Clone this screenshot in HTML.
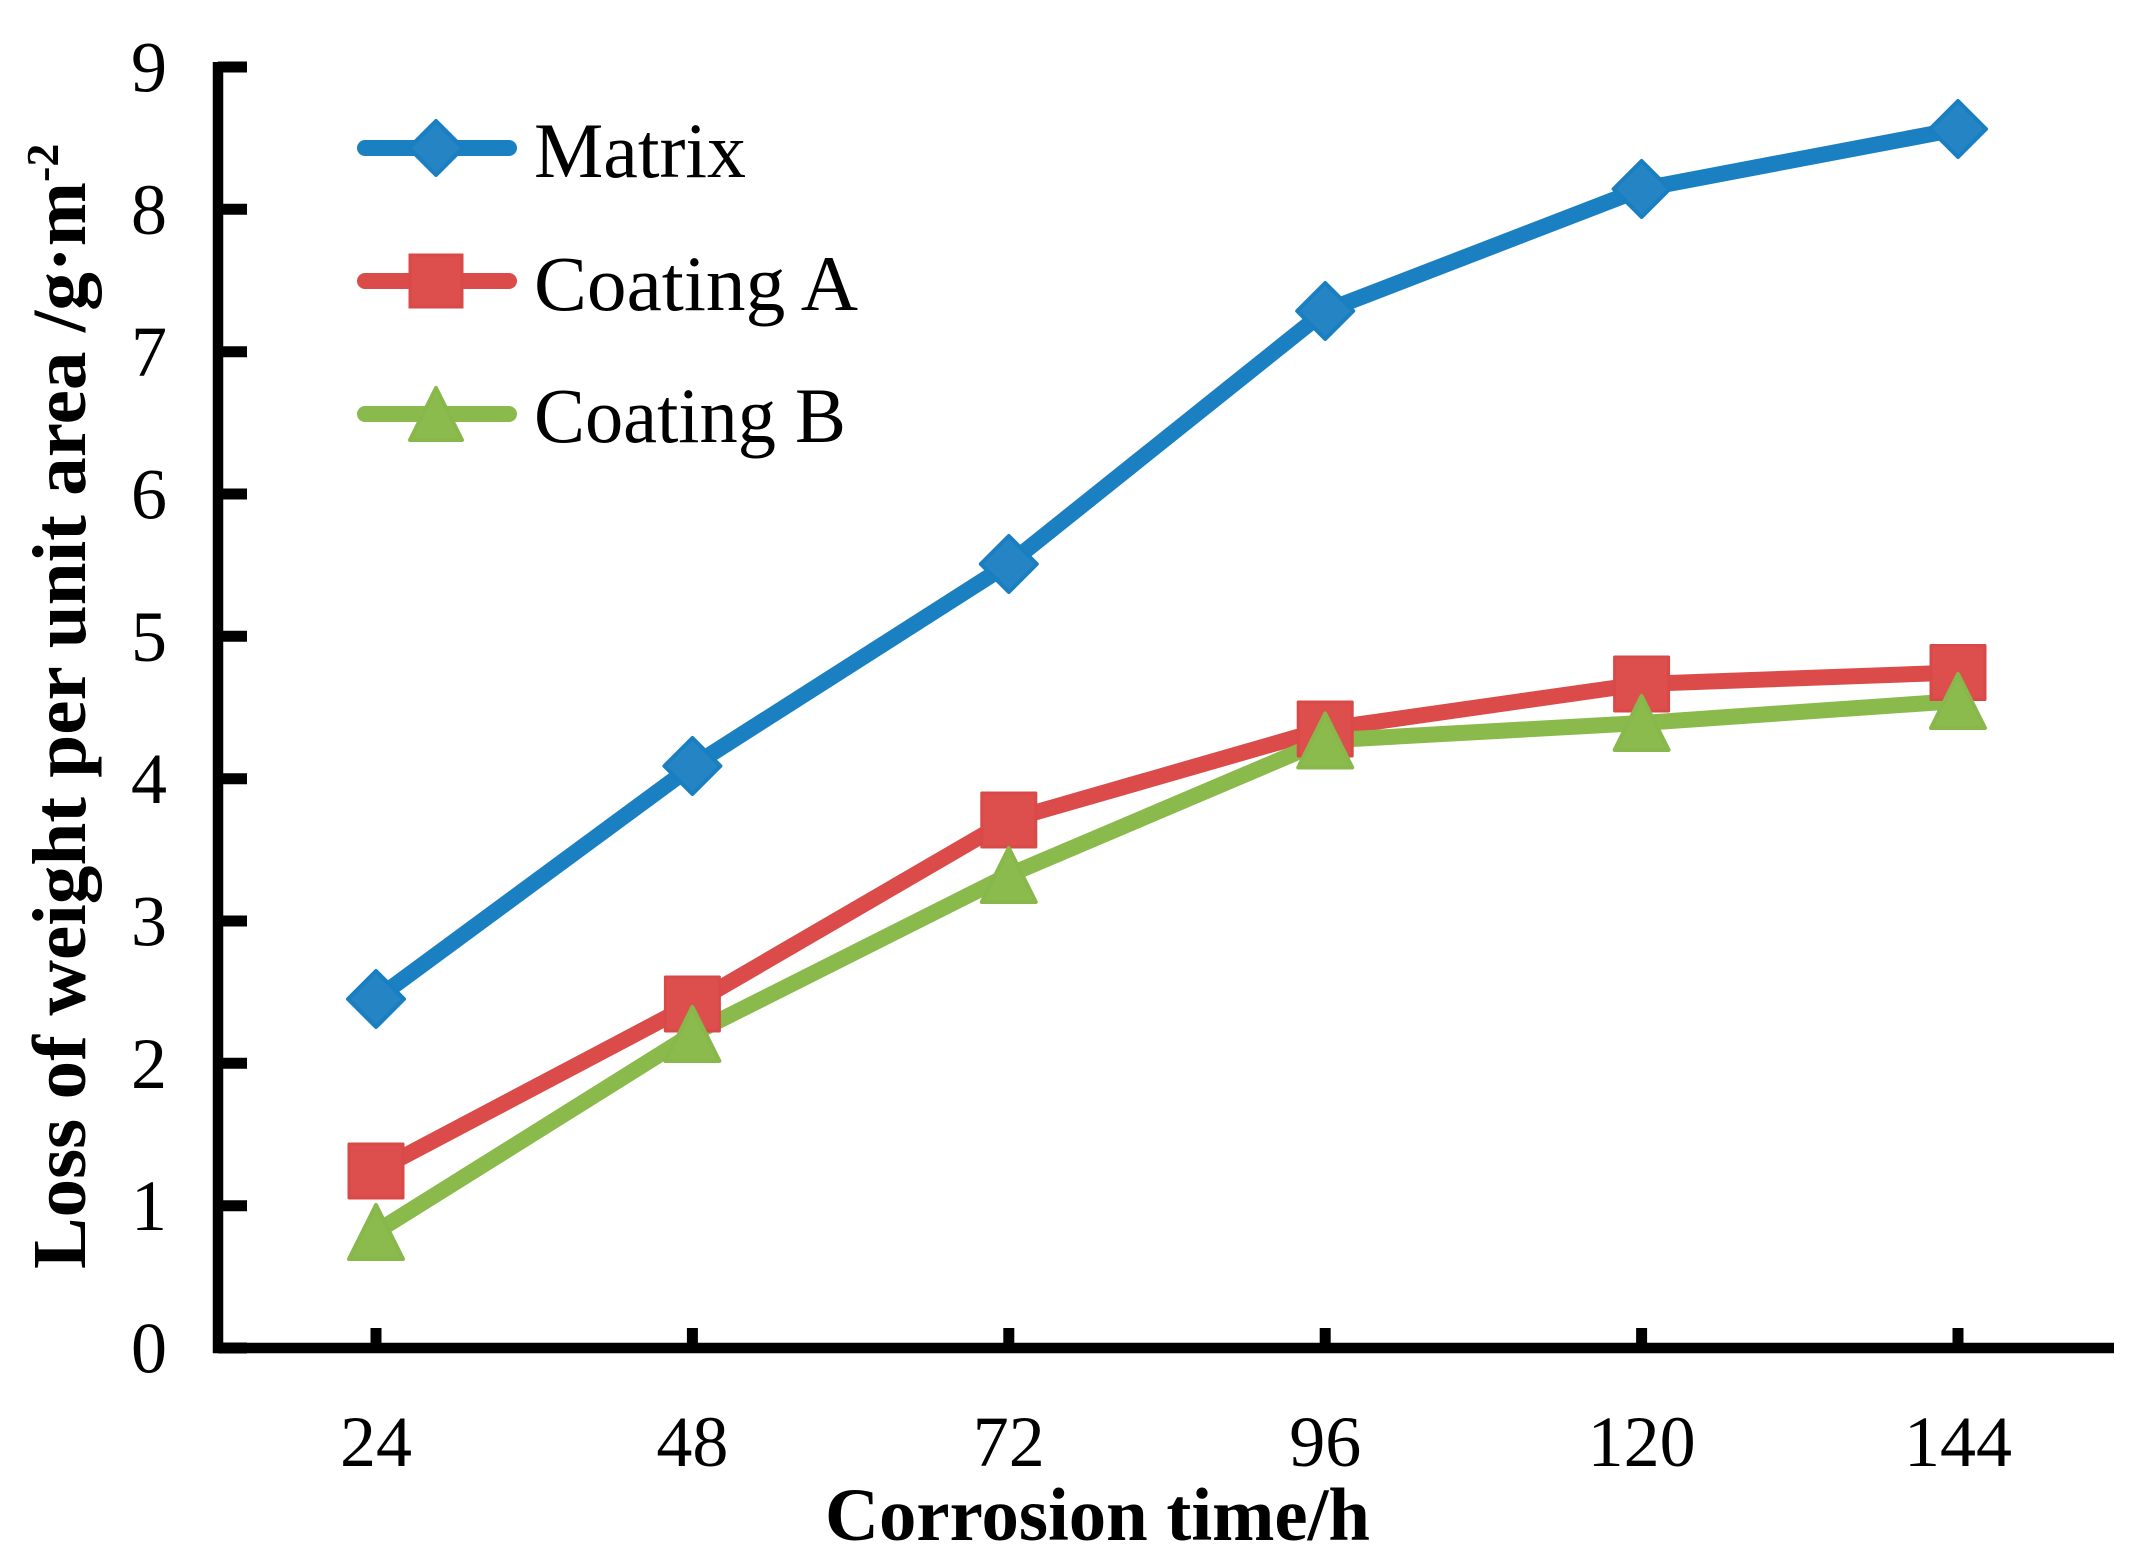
<!DOCTYPE html>
<html>
<head>
<meta charset="utf-8">
<style>
  html, body { margin: 0; padding: 0; background: #ffffff; }
  svg { display: block; }
  text { font-family: "Liberation Serif", "Times New Roman", serif; fill: #000; }
</style>
</head>
<body>
<svg width="2146" height="1557" viewBox="0 0 2146 1557" xmlns="http://www.w3.org/2000/svg">
  <rect x="0" y="0" width="2146" height="1557" fill="#ffffff"/>

  <!-- Axes -->
  <line x1="218" y1="62" x2="218" y2="1353" stroke="#000" stroke-width="10.5"/>
  <line x1="213" y1="1348" x2="2114" y2="1348" stroke="#000" stroke-width="10.5"/>

  <!-- Y ticks (inward) -->
  <g stroke="#000" stroke-width="11">
    <line x1="218" y1="1348" x2="247" y2="1348"/>
    <line x1="218" y1="1205.7" x2="247" y2="1205.7"/>
    <line x1="218" y1="1063.3" x2="247" y2="1063.3"/>
    <line x1="218" y1="921" x2="247" y2="921"/>
    <line x1="218" y1="778.7" x2="247" y2="778.7"/>
    <line x1="218" y1="636.3" x2="247" y2="636.3"/>
    <line x1="218" y1="494" x2="247" y2="494"/>
    <line x1="218" y1="351.7" x2="247" y2="351.7"/>
    <line x1="218" y1="209.3" x2="247" y2="209.3"/>
    <line x1="218" y1="67" x2="247" y2="67"/>
  </g>

  <!-- X ticks (inward) -->
  <g stroke="#000" stroke-width="11">
    <line x1="376" y1="1348" x2="376" y2="1328"/>
    <line x1="692.4" y1="1348" x2="692.4" y2="1328"/>
    <line x1="1008.8" y1="1348" x2="1008.8" y2="1328"/>
    <line x1="1325.2" y1="1348" x2="1325.2" y2="1328"/>
    <line x1="1641.6" y1="1348" x2="1641.6" y2="1328"/>
    <line x1="1958" y1="1348" x2="1958" y2="1328"/>
  </g>

  <!-- Y tick labels -->
  <g font-size="72" text-anchor="end">
    <text x="167" y="1372.5">0</text>
    <text x="167" y="1230.2">1</text>
    <text x="167" y="1087.8">2</text>
    <text x="167" y="945.5">3</text>
    <text x="167" y="803.2">4</text>
    <text x="167" y="660.8">5</text>
    <text x="167" y="518.5">6</text>
    <text x="167" y="376.2">7</text>
    <text x="167" y="233.8">8</text>
    <text x="167" y="91.5">9</text>
  </g>

  <!-- X tick labels -->
  <g font-size="72" text-anchor="middle">
    <text x="376" y="1466">24</text>
    <text x="692.4" y="1466">48</text>
    <text x="1008.8" y="1466">72</text>
    <text x="1325.2" y="1466">96</text>
    <text x="1641.6" y="1466">120</text>
    <text x="1958" y="1466">144</text>
  </g>

  <!-- Axis titles -->
  <text x="825" y="1540" font-size="75" font-weight="bold" textLength="545" lengthAdjust="spacingAndGlyphs">Corrosion time/h</text>
  <text transform="translate(85,1269) rotate(-90)" font-size="76" font-weight="bold" textLength="1087" lengthAdjust="spacingAndGlyphs">Loss of weight per unit area /g·m</text>
  <text transform="translate(58,182) rotate(-90)" font-size="46" font-weight="bold">-2</text>

  <!-- Series lines -->
  <polyline fill="none" stroke="#1a80c1" stroke-width="16" stroke-linejoin="round"
    points="376,999 692.4,766 1008.8,564 1325.2,311 1641.6,189 1958,129"/>
  <polyline fill="none" stroke="#db4b4a" stroke-width="16" stroke-linejoin="round"
    points="376,1171 692.4,1004 1008.8,820 1325.2,729 1641.6,684 1958,672.5"/>
  <polyline fill="none" stroke="#8aba4c" stroke-width="16" stroke-linejoin="round"
    points="376,1232 692.4,1034 1008.8,875 1325.2,740.5 1641.6,723 1958,701"/>

  <!-- Matrix markers (diamonds) -->
  <g fill="#2584c3" stroke="#1a7fc0" stroke-width="4" stroke-linejoin="round">
    <polygon points="376,971 404,999 376,1027 348,999"/>
    <polygon points="692.4,738 720.4,766 692.4,794 664.4,766"/>
    <polygon points="1008.8,536 1036.8,564 1008.8,592 980.8,564"/>
    <polygon points="1325.2,283 1353.2,311 1325.2,339 1297.2,311"/>
    <polygon points="1641.6,161 1669.6,189 1641.6,217 1613.6,189"/>
    <polygon points="1958,101 1986,129 1958,157 1930,129"/>
  </g>

  <!-- Coating A markers (squares) -->
  <g fill="#dc4f4d" stroke="#d94947" stroke-width="3" stroke-linejoin="round">
    <rect x="349" y="1144" width="54" height="54"/>
    <rect x="665.4" y="977" width="54" height="54"/>
    <rect x="981.8" y="793" width="54" height="54"/>
    <rect x="1298.2" y="702" width="54" height="54"/>
    <rect x="1614.6" y="657" width="54" height="54"/>
    <rect x="1931" y="645.5" width="54" height="54"/>
  </g>

  <!-- Coating B markers (triangles) -->
  <g fill="#8bbb4d" stroke="#88b84b" stroke-width="4" stroke-linejoin="round">
    <polygon points="376,1205 403,1259 349,1259"/>
    <polygon points="692.4,1007 719.4,1061 665.4,1061"/>
    <polygon points="1008.8,848 1035.8,902 981.8,902"/>
    <polygon points="1325.2,713.5 1352.2,767.5 1298.2,767.5"/>
    <polygon points="1641.6,696 1668.6,750 1614.6,750"/>
    <polygon points="1958,674 1985,728 1931,728"/>
  </g>

  <!-- Legend -->
  <line x1="365" y1="148" x2="509" y2="148" stroke="#1a80c1" stroke-width="16" stroke-linecap="round"/>
  <polygon points="436,121 463,148 436,175 409,148" fill="#2584c3" stroke="#1a7fc0" stroke-width="4" stroke-linejoin="round"/>
  <text x="534" y="177" font-size="78" textLength="212" lengthAdjust="spacingAndGlyphs">Matrix</text>

  <line x1="365" y1="281" x2="509" y2="281" stroke="#db4b4a" stroke-width="16" stroke-linecap="round"/>
  <rect x="410" y="255" width="52" height="52" fill="#dc4f4d" stroke="#d94947" stroke-width="3"/>
  <text x="534" y="310" font-size="78" textLength="324" lengthAdjust="spacingAndGlyphs">Coating A</text>

  <line x1="365" y1="414" x2="509" y2="414" stroke="#8aba4c" stroke-width="16" stroke-linecap="round"/>
  <polygon points="436,388 462,440 410,440" fill="#8bbb4d" stroke="#88b84b" stroke-width="4" stroke-linejoin="round"/>
  <text x="534" y="442" font-size="78" textLength="312" lengthAdjust="spacingAndGlyphs">Coating B</text>
</svg>
</body>
</html>
